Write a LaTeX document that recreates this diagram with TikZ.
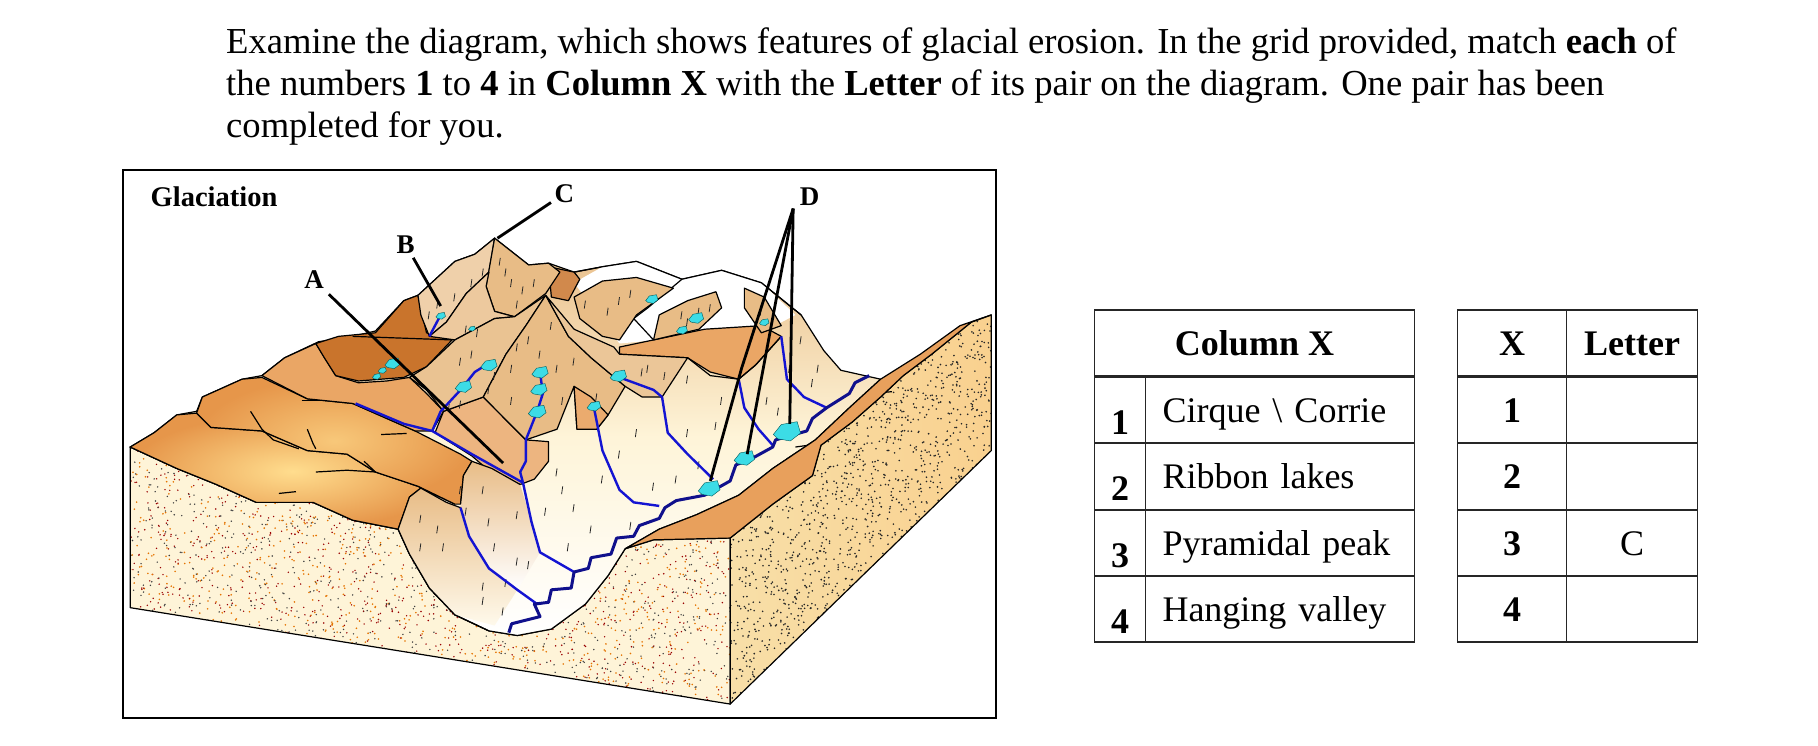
\documentclass[tikz,border=0pt]{standalone}
\usepackage{fontspec}
\setmainfont{Liberation Serif}
\usetikzlibrary{positioning}
\definecolor{facecream}{HTML}{FEF4D8}
\definecolor{facetan}{HTML}{F8DFA8}
\definecolor{ridgeorange}{HTML}{E6964A}
\definecolor{ridgelight}{HTML}{FFDD8E}
\definecolor{peaktan}{HTML}{E8BC86}
\definecolor{cirquebrown}{HTML}{C9742C}
\definecolor{riverblue}{HTML}{1414D2}
\definecolor{rivernavy}{HTML}{10108C}
\definecolor{lakecyan}{HTML}{3CDCE6}
\newcommand{\frontface}{(18,790) -- (100,850) -- (170,895) -- (240,945) -- (340,945) -- (410,995) -- (490,1020) -- (510,1090) -- (545,1185) -- (590,1260) -- (650,1305) -- (700,1318) -- (760,1300) -- (820,1230) -- (860,1150) -- (890,1075) -- (940,1050) -- (1075,1045) -- (1075,1510) -- (18,1240) -- cycle}
\newcommand{\sideface}{(1075,1045) -- (1150,950) -- (1220,870) -- (1235,785) -- (1290,720) -- (1340,650) -- (1380,590) -- (1430,530) -- (1500,440) -- (1535,420) -- (1535,800) -- (1075,1510) -- cycle}
\tikzset{
    terrain/.style={draw=black, line width=1.2pt, line join=round},
    river/.style={draw=riverblue, line width=2.4pt, line join=round},
    mainriver/.style={draw=rivernavy, line width=3pt, line join=round},
    lake/.style={fill=lakecyan, draw=teal!70!black, line width=0.4pt},
    leader/.style={draw=black, line width=2.8pt},
    hachure/.style={draw=black!85, line width=0.8pt},
    marklabel/.style={font=\bfseries\fontsize{27}{29}\selectfont, inner sep=1pt},
    cellbox/.style={draw=black!85, line width=1.8pt, outer sep=0pt, inner sep=0pt, minimum height=66.5pt, font=\fontsize{36}{42}\selectfont, text height=24pt, text depth=0pt},
    headcell/.style={cellbox, font=\bfseries\fontsize{36}{42}\selectfont},
    numcell/.style={cellbox, minimum width=51pt, font=\bfseries\fontsize{36}{42}\selectfont},
    labelcell/.style={cellbox, minimum width=269pt, text width=235pt, align=left},
    xcell/.style={cellbox, minimum width=109pt},
    lettercell/.style={cellbox, minimum width=131pt}
}
\begin{document}
\begin{tikzpicture}[x=1pt, y=-1pt]
    \useasboundingbox (0,0) rectangle (1818,746);
    \node[anchor=north west, inner sep=0pt, align=left, font=\fontsize{36.6}{42}\selectfont] (question) at (226,28) {Examine the diagram, which shows features of glacial erosion. In the grid provided, match \textbf{each} of\\the numbers \textbf{1} to \textbf{4} in \textbf{Column X} with the \textbf{Letter} of its pair on the diagram. One pair has been\\completed for you.};
    \draw[line width=1.6pt] (123,170) rectangle (996,718);
    \node[font=\bfseries\fontsize{28.5}{30}\selectfont, inner sep=0pt] (title) at (214,197) {Glaciation};

    % block diagram, traced in its own units
    \begin{scope}[shift={(120,165)}, x=0.5676pt, y=-0.357pt]
        \fill[facecream] \frontface;
        \shade[left color=facetan, right color=facetan!85!orange] \sideface;
        \pgfmathsetseed{12}
        \begin{scope}
            \clip \frontface;
            \foreach \i in {1,...,3800} {
                \pgfmathsetmacro{\dotx}{18+rnd*1060}
                \pgfmathsetmacro{\doty}{790+rnd*720}
                \pgfmathsetmacro{\dotc}{int(rnd*3)}
                \ifnum\dotc=0 \fill[black!75] (\dotx,\doty) circle (0.8pt);
                \else\ifnum\dotc=1 \fill[red!60!black] (\dotx,\doty) circle (0.8pt);
                \else \fill[orange!90!black] (\dotx,\doty) circle (0.9pt); \fi\fi
            }
        \end{scope}
        \begin{scope}
            \clip \sideface;
            \foreach \i in {1,...,2600} {
                \pgfmathsetmacro{\dotx}{1075+rnd*460}
                \pgfmathsetmacro{\doty}{420+rnd*1090}
                \fill[black!85] (\dotx,\doty) circle (0.9pt);
            }
        \end{scope}
        \draw[terrain] \frontface;
        \draw[terrain] \sideface;

        % whole mountain mass and valley floor
        \shade[top color=peaktan, bottom color=white, middle color=facecream, draw=black, line width=1.2pt]
            (18,790) -- (60,750) -- (100,700) -- (135,690) -- (145,650) -- (215,600) -- (250,590) -- (290,540) -- (350,495) -- (410,480) -- (450,465) -- (500,380) -- (525,365) -- (590,270) -- (625,250) -- (660,205) -- (720,280) -- (755,275) -- (800,300) -- (850,285) -- (910,270) -- (990,320) -- (1060,295) -- (1130,330) -- (1200,420) -- (1240,520) -- (1270,575) -- (1340,600) -- (1285,680) -- (1225,770) -- (1150,850) -- (1090,925) -- (1015,980) -- (950,1020) -- (890,1075) -- (860,1150) -- (820,1230) -- (760,1300) -- (700,1318) -- (650,1305) -- (590,1260) -- (545,1185) -- (510,1090) -- (490,1020) -- (410,995) -- (340,945) -- (240,945) -- (170,895) -- (100,850) -- cycle;

        % snow at the back
        \fill[white] (800,330) -- (850,285) -- (910,270) -- (990,320) -- (1060,295) -- (1130,330) -- (1190,420) -- (1130,470) -- (950,490) -- (880,500) -- cycle;
        \draw[terrain] (800,300) -- (850,285) -- (910,270) -- (990,320) -- (1060,295) -- (1130,330) -- (1200,420);
        \draw[terrain] (990,320) -- (930,400) -- (905,430) -- (940,490);
        \fill[terrain, fill=ridgeorange!85!white] (880,510) -- (940,490) -- (1030,460) -- (1130,450) -- (1165,480) -- (1120,560) -- (1090,600) -- (1040,580) -- (1000,540) -- (880,530) -- cycle;
        \fill[terrain, fill=peaktan] (800,370) -- (850,325) -- (910,315) -- (975,345) -- (910,420) -- (880,490) -- (850,480) -- (810,430) -- cycle;
        \fill[terrain, fill=peaktan] (940,490) -- (950,420) -- (1000,380) -- (1050,355) -- (1060,400) -- (1020,460) -- cycle;
        \fill[terrain, fill=peaktan] (1100,345) -- (1135,370) -- (1165,450) -- (1130,470) -- (1100,400) -- cycle;

        % ridges on the left
        \shade[terrain, inner color=ridgelight, outer color=ridgeorange]
            (18,790) -- (60,750) -- (100,700) -- (135,695) -- (160,735) -- (250,745) -- (330,800) -- (400,810) -- (450,860) -- (525,900) -- (590,950) -- (530,905) -- (510,930) -- (490,1020) -- (410,995) -- (340,945) -- (240,945) -- (170,895) -- (100,850) -- cycle;
        \shade[terrain, inner color=ridgelight!70!ridgeorange, outer color=ridgeorange]
            (135,695) -- (145,650) -- (215,600) -- (250,595) -- (330,655) -- (410,668) -- (520,745) -- (600,810) -- (620,830) -- (605,870) -- (600,950) -- (590,950) -- (525,900) -- (450,860) -- (400,810) -- (330,800) -- (250,745) -- (160,735) -- cycle;
        \fill[terrain, fill=ridgeorange!85!white] (250,590) -- (290,540) -- (345,500) -- (380,590) -- (420,610) -- (470,605) -- (510,595) -- (540,640) -- (570,690) -- (550,745) -- (520,745) -- (410,668) -- (330,655) -- cycle;
        \fill[terrain, fill=cirquebrown] (345,500) -- (385,480) -- (450,470) -- (500,380) -- (525,365) -- (540,470) -- (585,490) -- (540,565) -- (500,595) -- (420,605) -- (380,590) -- (360,540) -- cycle;
        \draw[terrain] (410,480) -- (585,490);

        % peaks
        \fill[terrain, fill=peaktan!70!white] (525,365) -- (590,270) -- (625,250) -- (660,205) -- (650,300) -- (610,360) -- (575,440) -- (545,480) -- (530,420) -- cycle;
        \fill[terrain, fill=cirquebrown!85!white] (755,285) -- (800,300) -- (810,320) -- (790,380) -- (760,370) -- cycle;
        \fill[terrain, fill=peaktan] (660,205) -- (720,280) -- (755,275) -- (775,300) -- (750,360) -- (695,425) -- (660,410) -- (645,340) -- cycle;
        \fill[terrain, fill=peaktan!80!white] (650,300) -- (645,340) -- (660,410) -- (695,425) -- (660,430) -- (590,490) -- (545,480) -- (575,440) -- (610,360) -- cycle;
        \fill[terrain, fill=ridgeorange!70!white] (570,690) -- (640,650) -- (715,770) -- (755,775) -- (755,830) -- (730,880) -- (705,895) -- (660,870) -- (620,815) -- (555,750) -- cycle;
        \fill[terrain, fill=peaktan!90!white] (750,365) -- (715,450) -- (680,530) -- (640,650) -- (570,690) -- (540,630) -- (510,595) -- (540,565) -- (590,490) -- (660,430) -- (695,425) -- cycle;
        \fill[terrain, fill=peaktan] (750,365) -- (790,480) -- (830,540) -- (890,620) -- (860,700) -- (840,740) -- (805,740) -- (800,620) -- (770,740) -- (715,770) -- (640,650) -- (680,530) -- (715,450) -- cycle;
        \fill[terrain, fill=peaktan!85!white] (750,365) -- (800,460) -- (870,510) -- (880,530) -- (1000,540) -- (955,650) -- (920,650) -- (890,620) -- (830,540) -- (790,480) -- cycle;
        \fill[terrain, fill=ridgeorange!80!white] (805,740) -- (800,620) -- (830,650) -- (860,700) -- (840,740) -- cycle;
        \draw[terrain] (1000,540) -- (1040,590) -- (1090,600) -- (1120,560) -- (1165,480);

        % spurs by the valley mouth
        \shade[top color=peaktan, bottom color=white] (605,870) -- (620,830) -- (655,850) -- (705,895) -- (725,1000) -- (740,1085) -- (700,1190) -- (650,1130) -- (615,1040) -- (600,960) -- cycle;
        \draw[terrain] (600,950) -- (605,870) -- (620,830) -- (655,850) -- (705,895);
        \shade[top color=peaktan, bottom color=facecream!50!white] (490,1020) -- (510,930) -- (530,905) -- (575,945) -- (600,960) -- (615,1040) -- (650,1130) -- (700,1190) -- (660,1290) -- (590,1260) -- (545,1185) -- (510,1090) -- cycle;
        \draw[terrain] (490,1020) -- (510,930) -- (530,905) -- (575,945) -- (600,960);
        \draw[terrain] (490,1020) -- (510,1090) -- (545,1185) -- (590,1260) -- (650,1305);

        % cracks in the ridges
        \draw[terrain] (230,690) -- (250,740) -- (270,770) -- (315,795);
        \draw[terrain] (330,740) -- (340,780) -- (345,795);
        \draw[terrain] (345,860) -- (400,855) -- (450,860) -- (430,830);
        \draw[terrain] (280,920) -- (310,915);
        \draw[terrain] (320,660) -- (365,660);
        \draw[terrain] (460,755) -- (505,752);
        \draw[terrain] (1320,640) -- (1360,635);
        \draw[terrain] (950,1020) -- (990,1015);
        \draw[terrain] (1090,925) -- (1125,918);
        \draw[terrain] (1190,790) -- (1235,780);

        % orange ridge on the far side
        \fill[terrain, fill=ridgeorange!90!white] (890,1075) -- (950,1020) -- (1015,980) -- (1090,925) -- (1150,850) -- (1225,770) -- (1285,680) -- (1340,600) -- (1410,530) -- (1480,450) -- (1535,420) -- (1500,440) -- (1430,530) -- (1380,590) -- (1340,650) -- (1290,720) -- (1235,785) -- (1220,870) -- (1150,950) -- (1075,1045) -- (940,1050) -- cycle;

        % hachures on the slopes
        \foreach \hx/\hy in {610/960,650/990,700/970,660/1060,700/1100,640/1170,680/1160,720/1110,560/1010,530/980,750/960,800/950,830/1010,790/1060,900/1000,940/890,980/870,1020/830,880/800,910/740,1050/720,1060/650,1140/650,1180/560,1220/600,770/850,780/900,850/870,600/900,640/900,570/1060,530/1060,675/1240,640/1210,1000/740,1160/680,720/480,740/520,770/560,690/560,660/580,600/540,620/520,730/320,690/320,620/320,590/360,700/380,1000/430,1020/400,880/370,900/350,1130/400,740/620,690/650,780/650,1200/480,1230/560,1000/590,960/580,920/570,840/640,580/670,600/660,670/260,680/290,710/340,640/290,560/380,545/410,760/440,700/500,800/540,650/620,610/450,630/460,990/410,1040/390,860/400,820/380,930/560} {
            \draw[hachure] (\hx,\hy) -- ++(-2,22);
        }

        % rivers
        \draw[river] (600,960) -- (615,1040) -- (650,1130) -- (700,1190) -- (735,1230);
        \draw[river] (710,890) -- (725,1000) -- (740,1085) -- (800,1140);
        \draw[river] (835,680) -- (850,800) -- (880,910) -- (905,945) -- (950,955);
        \draw[river] (955,650) -- (965,750) -- (1000,810) -- (1045,880);
        \draw[river] (1090,600) -- (1100,680) -- (1125,740) -- (1150,785);
        \draw[river] (1165,480) -- (1175,600) -- (1205,650) -- (1245,680);
        \draw[river] (415,668) -- (500,725) -- (550,745) -- (620,810) -- (710,890);
        \draw[river] (550,745) -- (565,690) -- (600,630) -- (625,580) -- (650,555);
        \draw[river] (710,890) -- (705,860) -- (715,830) -- (715,770) -- (735,690) -- (745,640) -- (740,580);
        \draw[river] (880,595) -- (940,630) -- (955,650);
        \draw[river] (545,480) -- (555,450) -- (565,420);
        \draw[mainriver] (685,1310) -- (690,1285) -- (740,1265) -- (730,1230) -- (755,1225) -- (760,1190) -- (795,1185) -- (800,1140) -- (825,1130) -- (830,1100) -- (865,1090) -- (875,1045) -- (905,1040) -- (915,1010) -- (950,990) -- (960,960) -- (980,940) -- (1030,925) -- (1075,885) -- (1085,840) -- (1110,825) -- (1150,790) -- (1155,770) -- (1210,745) -- (1220,710) -- (1245,680) -- (1285,640) -- (1295,610) -- (1320,590);

        % lakes
        \foreach \lx/\ly/\lr in {565/422/7,620/458/5,480/555/11,462/575/6,452/592/6,650/560/12,605/620/12,740/580/12,738/628/12,735/690/13,835/675/10,878/590/12,937/375/9,1015/428/11,990/462/8,1135/440/7,1175/745/20,1100/820/15,1038/905/16} {
            \fill[lake] (\lx-\lr*1.2,\ly+\lr*0.5) -- (\lx-\lr*0.5,\ly-\lr*0.9) -- (\lx+\lr*0.9,\ly-\lr*1.3) -- (\lx+\lr*1.2,\ly+\lr*0.3) -- (\lx+\lr*0.3,\ly+\lr*1.4) -- (\lx-\lr*0.8,\ly+\lr*1.1) -- cycle;
        }

        % labels and their leaders
        \node[marklabel] (labA) at (342,322) {A};
        \node[marklabel] (labB) at (503,222) {B};
        \node[marklabel] (labC) at (783,80) {C};
        \node[marklabel] (labD) at (1215,90) {D};
        \coordinate (endA) at (675,835);
        \coordinate (endB) at (565,395);
        \coordinate (endC) at (665,205);
        \coordinate (fanD) at (1186,122);
        \coordinate (endDa) at (1040,885);
        \coordinate (endDb) at (1105,810);
        \coordinate (endDc) at (1180,725);
        \draw[leader, shorten <=6pt] (labA) -- (endA);
        \draw[leader, shorten <=4pt] (labB) -- (endB);
        \draw[leader, shorten <=3pt] (labC) -- (endC);
        \draw[leader] (fanD) -- (1095,570) -- (endDa);
        \draw[leader] (fanD) -- (endDb);
        \draw[leader] (fanD) -- (endDc);
    \end{scope}

    % Column X table
    \node[headcell, minimum width=320pt] (colhead) at (1254.5,343) {Column X};
    \node[numcell] (num1) at (1120,410) {\smash{\raisebox{-12pt}{1}}};
    \node[labelcell] (lab1) at (1280,410) {Cirque \textbackslash{} Corrie};
    \node[numcell] (num2) at (1120,476.5) {\smash{\raisebox{-12pt}{2}}};
    \node[labelcell] (lab2) at (1280,476.5) {Ribbon lakes};
    \node[numcell] (num3) at (1120,543) {\smash{\raisebox{-12pt}{3}}};
    \node[labelcell] (lab3) at (1280,543) {Pyramidal peak};
    \node[numcell] (num4) at (1120,609) {\smash{\raisebox{-12pt}{4}}};
    \node[labelcell] (lab4) at (1280,609) {Hanging valley};

    % answer grid
    \node[xcell, font=\bfseries\fontsize{36}{42}\selectfont] (xhead) at (1512,343) {X};
    \node[lettercell, font=\bfseries\fontsize{36}{42}\selectfont] (lethead) at (1632,343) {Letter};
    \foreach \row/\ypos/\ans in {1/410/,2/476.5/,3/543/C,4/609/} {
        \node[xcell, font=\bfseries\fontsize{36}{42}\selectfont] (x\row) at (1512,\ypos) {\row};
        \node[lettercell] (let\row) at (1632,\ypos) {\ans};
    }
\end{tikzpicture}
\end{document}
